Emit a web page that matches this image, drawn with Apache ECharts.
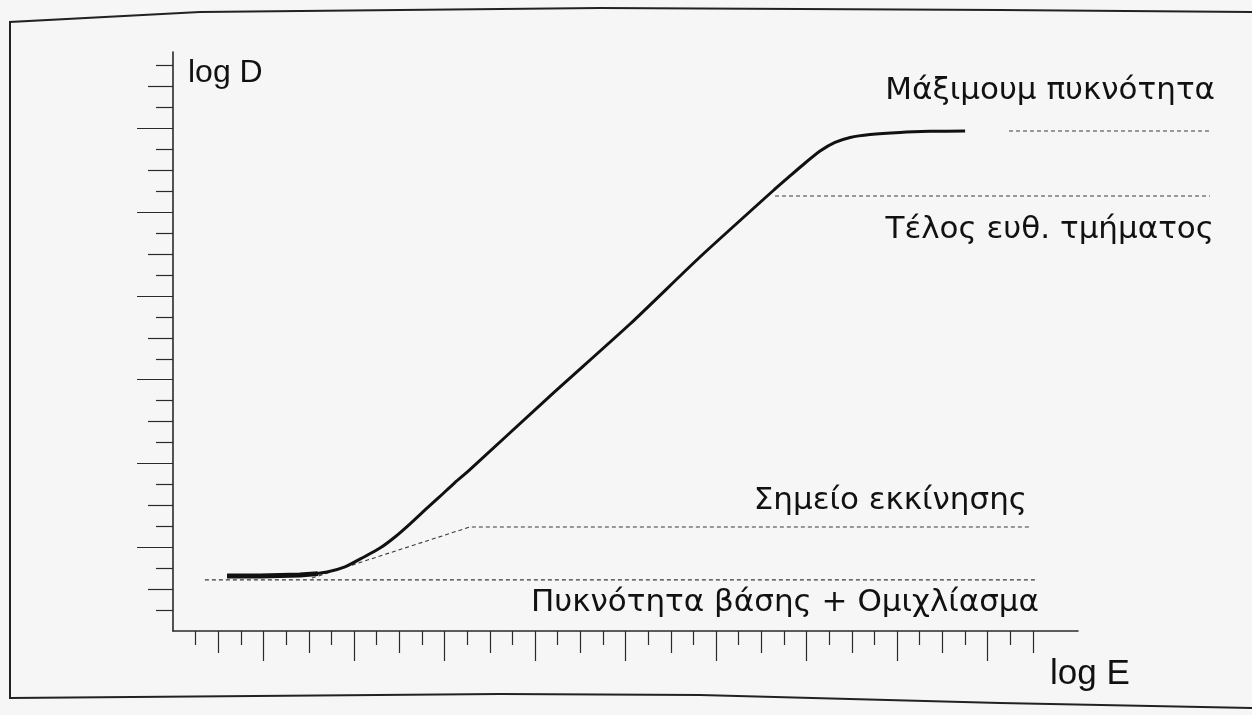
<!DOCTYPE html>
<html><head><meta charset="utf-8">
<script src="https://cdn.jsdelivr.net/npm/echarts@6/dist/echarts.min.js"></script>
<style>html,body{margin:0;padding:0;background:#f6f6f6}#c{width:1252px;height:715px}</style>
</head><body><div id="c"></div>
<script>
// Characteristic curve (units = minor tick steps on each axis)
const curveX = [2.39, 3.85, 5.61, 6.81, 7.60, 8.40, 9.15, 9.81, 10.48, 11.14, 11.80, 12.46, 13.11, 16.66, 20.20, 23.29, 26.61, 27.27, 27.94, 28.60, 29.26, 29.93, 30.81, 32.13, 33.46, 35.01];
const curveY = [2.63, 2.63, 2.67, 2.82, 3.06, 3.51, 3.96, 4.49, 5.12, 5.78, 6.43, 7.09, 7.69, 11.22, 14.66, 17.86, 21.11, 21.73, 22.35, 22.92, 23.33, 23.57, 23.71, 23.81, 23.86, 23.88];
const toeX = [2.39, 3.85, 5.61, 6.40];
const toeY = [2.63, 2.63, 2.67, 2.74];
// Reference (dashed) lines
const baseX = [1.41, 38.14];      const baseY = [2.44, 2.44];
const startX = [6.14, 13.13, 37.88]; const startY = [2.53, 4.97, 4.97];
const endLinX = [26.61, 45.83];   const endLinY = [20.77, 20.77];
const maxX = [36.95, 45.83];      const maxY = [23.88, 23.88];
// Tick positions
const xMinor = [1,3,5,7,9,11,13,15,17,19,21,23,25,27,29,31,33,35,37];
const xMid = [2,6,10,14,18,22,26,30,34,38];
const xMajor = [4,8,12,16,20,24,28,32,36];
const yMinor = [1,3,5,7,9,11,13,15,17,19,21,23,25,27];
const yMid = [2,6,10,14,18,22,26];
const yMajor = [4,8,12,16,20,24];
// Texts
const labels = {
  yName: 'log D', xName: 'log E',
  max: 'Μάξιμουμ πυκνότητα', endLin: 'Τέλος ευθ. τμήματος',
  start: 'Σημείο εκκίνησης', base: 'Πυκνότητα βάσης + Ομιχλίασμα'
};

const zip = (a, b) => a.map((v, i) => [v, b[i]]);
const axisCol = '#2a2a2a';
const xTickSets = [[xMajor, 30], [xMid, 22], [xMinor, 14]];
const yTickSets = [[yMajor, 36], [yMid, 25], [yMinor, 17]];
const X_MAX = 40, X_MAX_WIDE = 46.055, Y_MAX = 27.65;

const chart = echarts.init(document.getElementById('c'), null, {renderer: 'canvas'});
const dashed = (name, xs, ys, wide) => ({
  name, type: 'line', data: zip(xs, ys), symbol: 'none', smooth: false,
  xAxisIndex: wide ? 3 : 0, yAxisIndex: wide ? 3 : 0,
  lineStyle: {color: '#3a3a3a', width: 1.1, type: [4, 3]}, silent: true, z: 2
});
const F = '"Liberation Sans", Arial, sans-serif';
const G = '"DejaVu Sans", sans-serif';
const xAxes = xTickSets.map((s, i) => ({
  type: 'value', min: 0, max: X_MAX, position: 'bottom', gridIndex: 0,
  axisLine: {show: i === 0, onZero: false, lineStyle: {color: axisCol, width: 1.6}},
  axisTick: {show: true, customValues: s[0], length: s[1], lineStyle: {color: axisCol, width: 1.2}},
  axisLabel: {show: false}, splitLine: {show: false}
}));
xAxes.push({type: 'value', min: 0, max: X_MAX_WIDE, gridIndex: 1, show: false});
const yAxes = yTickSets.map((s, i) => ({
  type: 'value', min: 0, max: Y_MAX, position: 'left', gridIndex: 0,
  axisLine: {show: i === 0, onZero: false, lineStyle: {color: axisCol, width: 1.6}},
  axisTick: {show: true, customValues: s[0], length: s[1], lineStyle: {color: axisCol, width: 1.2}},
  axisLabel: {show: false}, splitLine: {show: false}
}));
yAxes.push({type: 'value', min: 0, max: Y_MAX, gridIndex: 1, show: false});

chart.setOption({
  backgroundColor: '#f6f6f6',
  animation: false,
  grid: [
    {left: 173, right: 174, top: 52, bottom: 84},
    {left: 173, right: 37, top: 52, bottom: 84}
  ],
  xAxis: xAxes,
  yAxis: yAxes,
  series: [
    dashed('base', baseX, baseY),
    dashed('start', startX, startY),
    dashed('endLin', endLinX, endLinY, true),
    dashed('max', maxX, maxY, true),
    {name: 'curve', type: 'line', data: zip(curveX, curveY), symbol: 'none', smooth: 0.2,
     lineStyle: {color: '#111', width: 3}, z: 3},
    {name: 'toe', type: 'line', data: zip(toeX, toeY), symbol: 'none', smooth: false,
     lineStyle: {color: '#111', width: 5}, z: 3}
  ],
  graphic: [
    {type: 'polyline', shape: {points: [[1252,12],[1000,10],[600,8],[200,12],[10,22],[10,698],[500,694],[700,695],[1000,703],[1252,708]]},
     style: {stroke: '#222', lineWidth: 2, fill: null}, silent: true},
    {type: 'text', x: 188, y: 73, style: {text: labels.yName, font: '32px ' + F, fill: '#111', align: 'left', verticalAlign: 'middle'}},
    {type: 'text', x: 1050, y: 674, style: {text: labels.xName, font: '35px ' + F, fill: '#111', align: 'left', verticalAlign: 'middle'}},
    {type: 'text', x: 1215, y: 91, style: {text: labels.max, font: '31px ' + G, fill: '#111', align: 'right', verticalAlign: 'middle'}},
    {type: 'text', x: 1214, y: 230, style: {text: labels.endLin, font: '31px ' + G, fill: '#111', align: 'right', verticalAlign: 'middle'}},
    {type: 'text', x: 1027, y: 501, style: {text: labels.start, font: '31px ' + G, fill: '#111', align: 'right', verticalAlign: 'middle'}},
    {type: 'text', x: 1039, y: 603, style: {text: labels.base, font: '31px ' + G, fill: '#111', align: 'right', verticalAlign: 'middle'}}
  ]
});
</script>
</body></html>
